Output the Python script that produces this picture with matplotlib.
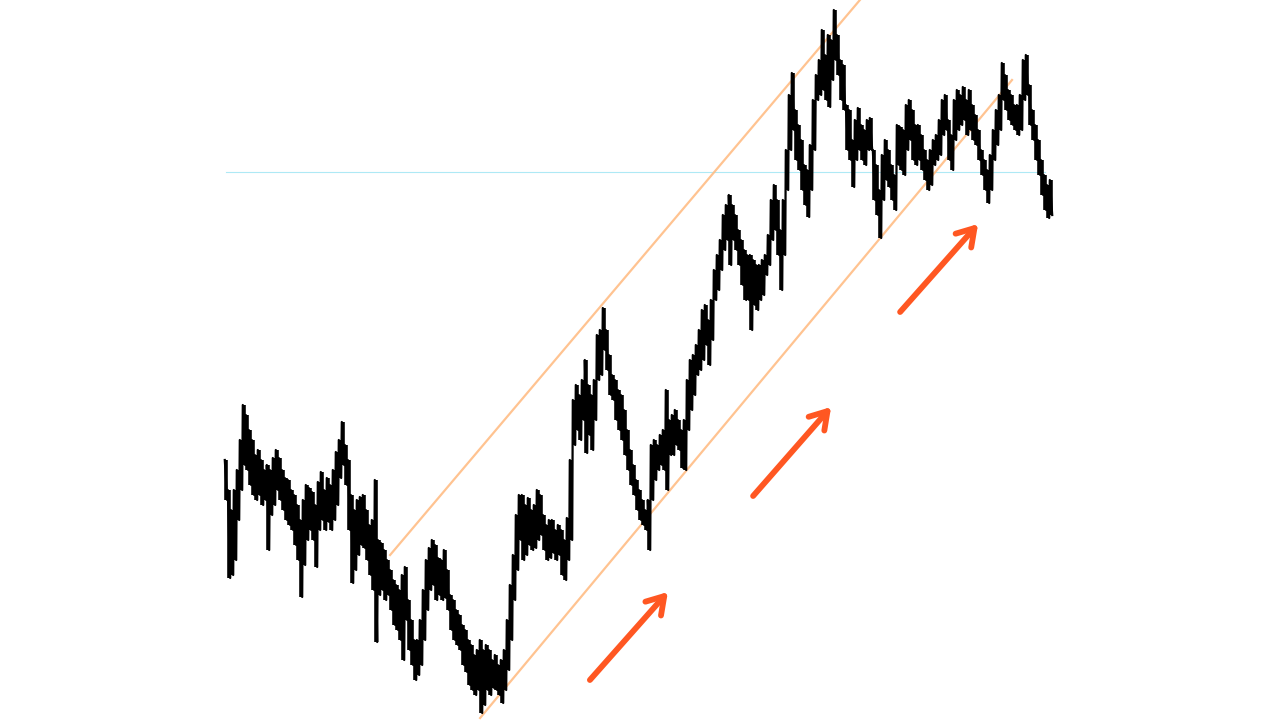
import numpy as np
import matplotlib
matplotlib.use('Agg')
import matplotlib.pyplot as plt

# highs / lows per bar (price units)
highs = [
    260, 230, 210, 230, 250, 280, 315, 305, 290, 280,
    265, 270, 260, 250, 255, 250, 262, 270, 262, 250,
    242, 240, 230, 225, 215, 200, 220, 235, 232, 228,
    215, 238, 248, 230, 242, 235, 250, 268, 280, 298,
    275, 260, 225, 210, 220, 223, 225, 210, 195, 200,
    240, 180, 177, 170, 160, 150, 140, 135, 130, 145,
    153, 120, 100, 80, 80, 100, 130, 160, 172, 180,
    175, 162, 160, 170, 150, 125, 120, 110, 105, 95,
    90, 80, 75, 65, 70, 80, 70, 75, 70, 60,
    65, 55, 60, 70, 100, 135, 165, 205, 225, 225,
    215, 222, 210, 215, 230, 225, 205, 195, 200, 200,
    190, 195, 190, 180, 202, 260, 320, 335, 325, 340,
    360, 335, 325, 340, 385, 390, 412, 390, 365, 345,
    340, 330, 325, 310, 290, 270, 255, 240, 230, 220,
    210, 220, 275, 280, 275, 285, 290, 330, 300, 305,
    310, 300, 290, 300, 340, 360, 365, 375, 390, 410,
    415, 400, 420, 450, 465, 480, 505, 515, 525, 515,
    505, 490, 480, 470, 465, 465, 460, 455, 455, 460,
    465, 485, 520, 535, 520, 490, 520, 570, 625, 647,
    610, 595, 580, 555, 550, 575, 620, 645, 660, 690,
    665, 685, 680, 710, 685, 660, 655, 615, 610, 580,
    600, 612, 595, 590, 600, 602, 570, 555, 530, 565,
    580, 570, 555, 545, 595, 593, 590, 615, 620, 610,
    595, 595, 585, 570, 560, 570, 580, 585, 600, 620,
    625, 600, 585, 620, 630, 625, 633, 620, 630, 615,
    605, 590, 570, 560, 550, 565, 590, 610, 625, 657,
    645, 630, 625, 615, 615, 625, 660, 665, 635, 610,
    595, 580, 560, 545, 535, 540,
]
lows = [
    220, 142, 145, 160, 200, 230, 255, 250, 235, 225,
    220, 225, 215, 220, 170, 205, 215, 230, 220, 210,
    200, 195, 190, 175, 160, 123, 155, 180, 190, 180,
    153, 190, 200, 190, 198, 190, 200, 215, 242, 255,
    235, 190, 137, 150, 165, 175, 172, 160, 145, 130,
    78, 125, 130, 120, 125, 110, 95, 90, 80, 60,
    100, 70, 55, 40, 45, 55, 80, 110, 130, 135,
    120, 125, 120, 122, 110, 90, 80, 75, 70, 55,
    48, 35, 30, 25, 30, 7, 15, 30, 25, 32,
    30, 25, 17, 30, 50, 80, 120, 150, 180, 160,
    165, 175, 170, 172, 180, 185, 170, 160, 162, 167,
    160, 165, 145, 140, 160, 180, 275, 290, 280, 300,
    267, 285, 270, 300, 340, 345, 370, 350, 325, 320,
    300, 290, 280, 265, 250, 235, 225, 210, 200, 195,
    190, 170, 220, 240, 250, 255, 250, 230, 265, 265,
    275, 270, 252, 250, 290, 310, 325, 345, 350, 360,
    375, 355, 380, 420, 430, 450, 470, 480, 455, 480,
    470, 455, 435, 420, 420, 390, 415, 410, 420, 425,
    445, 455, 480, 490, 465, 430, 465, 530, 570, 590,
    560, 550, 530, 515, 503, 530, 570, 620, 625, 630,
    620, 613, 640, 660, 645, 620, 610, 570, 560, 533,
    560, 570, 560, 555, 570, 570, 520, 505, 482, 520,
    540, 533, 520, 510, 555, 550, 545, 570, 580, 560,
    555, 560, 550, 540, 530, 535, 555, 560, 565, 585,
    590, 560, 550, 580, 590, 595, 600, 585, 590, 580,
    575, 560, 545, 530, 517, 530, 560, 575, 590, 620,
    610, 600, 595, 590, 585, 590, 620, 625, 595, 580,
    560, 545, 525, 510, 502, 505,
]
bars = np.arange(len(highs))

# channel lines (bar, price)
upper_channel = [(54.7, 165), (211.3, 720)]
lower_channel = [(84.7, 2), (262.0, 640)]
level = 548
# trend arrows: (tail, head)
arrows = [((121.3, 40), (147.3, 128)),
          ((175.7, 224), (201.7, 313)),
          ((224.7, 408), (250.7, 496))]

fig = plt.figure(figsize=(12.8, 7.2), dpi=100)
ax = fig.add_axes([0, 0, 1, 1])
ax.axis('off')

# horizontal level
ax.plot([0, 273], [level, level], color='#aee9f5', lw=0.8, zorder=1)

# price: bars + zigzag between high and low
ax.vlines(bars, lows, highs, color='black', lw=2.6, zorder=3)
zx = np.column_stack([bars - 0.4, bars + 0.4]).ravel()
zy = np.column_stack([highs, lows]).ravel()
ax.plot(zx, zy, color='black', lw=1.6, zorder=3)

# channel
for ch in (upper_channel, lower_channel):
    ax.plot([ch[0][0], ch[1][0]], [ch[0][1], ch[1][1]],
            color='#ffbd85', lw=1.6, alpha=0.9, zorder=2)

# arrows
for tail, head in arrows:
    ax.annotate('', xy=head, xytext=tail,
                arrowprops=dict(arrowstyle='->,head_length=1.2,head_width=0.75',
                                color='#ff5722', lw=4.2,
                                shrinkA=0, shrinkB=0))

ax.set_xlim(-75.33, 351.33)
ax.set_ylim(0, 720)

plt.savefig('out.png', dpi=100)
